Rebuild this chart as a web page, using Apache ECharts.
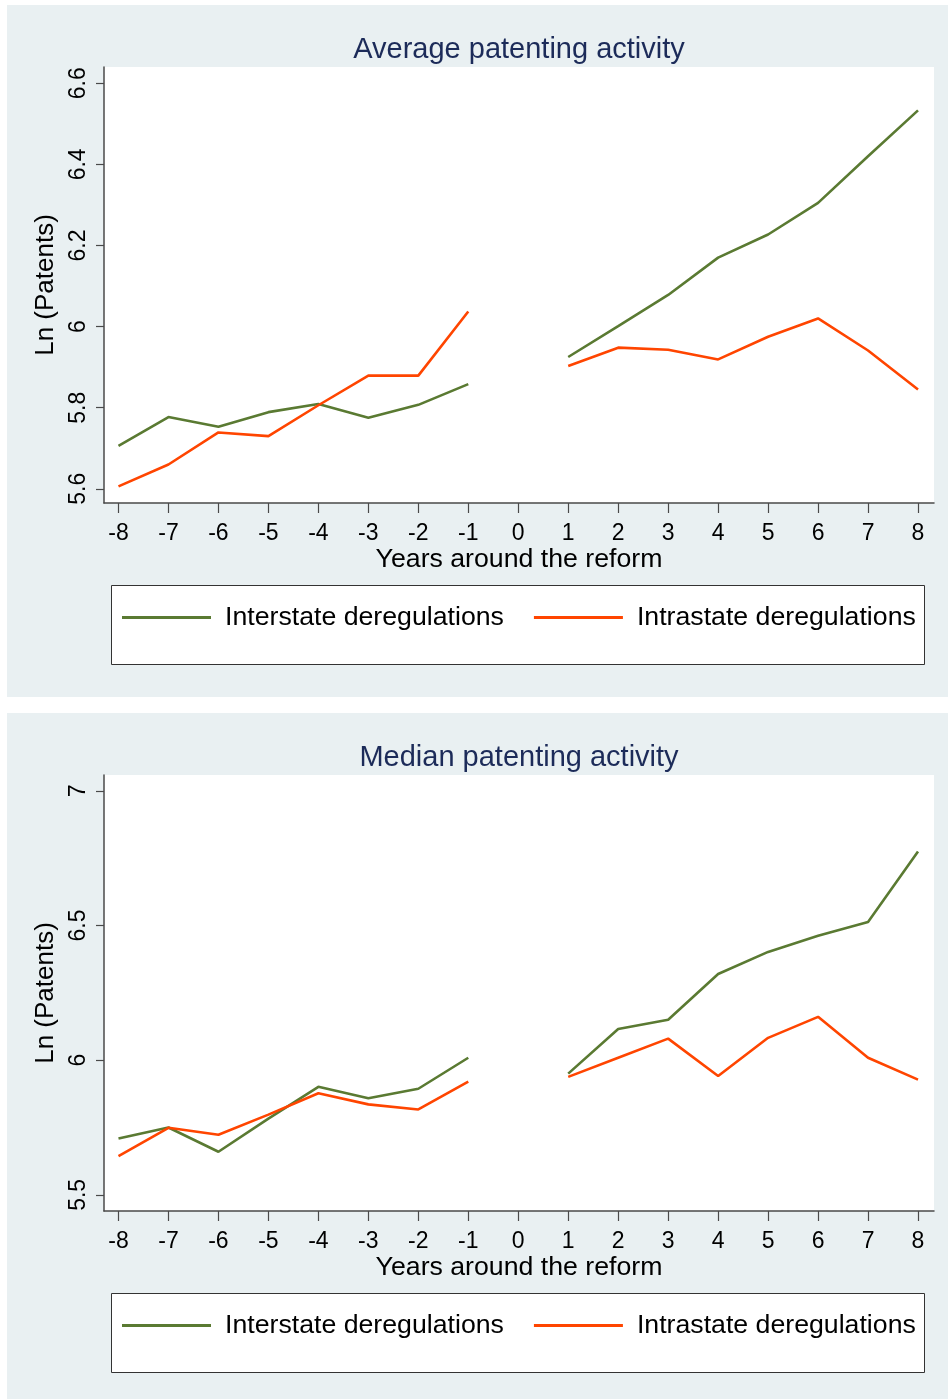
<!DOCTYPE html>
<html>
<head>
<meta charset="utf-8">
<script src="https://cdn.jsdelivr.net/npm/echarts@6/dist/echarts.min.js"></script>
<style>
  html, body { margin: 0; padding: 0; background: #fff; }
  #chart { width: 948px; height: 1399px; }
</style>
</head>
<body>
<div id="chart"></div>
<script>
// Years relative to the reform year (0 has no observation)
const years = [-8, -7, -6, -5, -4, -3, -2, -1, 0, 1, 2, 3, 4, 5, 6, 7, 8];

// Average ln(patents)
const avgInterstate = [5.706, 5.777, 5.753, 5.789, 5.809, 5.775, 5.807, 5.858, null,
                       5.925, 6.001, 6.078, 6.170, 6.227, 6.305, 6.420, 6.533];
const avgIntrastate = [5.606, 5.660, 5.739, 5.730, 5.806, 5.879, 5.879, 6.037, null,
                       5.903, 5.948, 5.943, 5.919, 5.975, 6.020, 5.941, 5.845];

// Median ln(patents)
const medInterstate = [5.709, 5.750, 5.660, 5.783, 5.901, 5.859, 5.894, 6.009, null,
                       5.950, 6.116, 6.150, 6.320, 6.402, 6.462, 6.513, 6.775];
const medIntrastate = [5.644, 5.749, 5.723, 5.798, 5.877, 5.836, 5.817, 5.920, null,
                       5.938, 6.009, 6.080, 5.941, 6.083, 6.161, 6.009, 5.928];

// Tick values
const avgTicks = [5.6, 5.8, 6, 6.2, 6.4, 6.6];
const medTicks = [5.5, 6, 6.5, 7];
const yearTicks = years;

const titles = ['Average patenting activity', 'Median patenting activity'];
const seriesNames = ['Interstate deregulations', 'Intrastate deregulations'];

const FONT = "'Liberation Sans', Arial, Helvetica, sans-serif";
const GREEN = '#5a7a32';
const ORANGE = '#ff4500';
const PANEL_BG = '#e9f0f2';
const AXIS = '#4a4a4a';

const panelOffset = 708;           // vertical shift of the second panel
const plotLeft = 104, plotRight = 934, plotTop = 67, plotBottom = 503;

function toPairs(vals) {
  return years.map((x, i) => [x, vals[i] == null ? '-' : vals[i]]);
}

const panels = [
  { title: titles[0], inter: avgInterstate, intra: avgIntrastate, ticks: avgTicks, min: 5.565, max: 6.640 },
  { title: titles[1], inter: medInterstate, intra: medIntrastate, ticks: medTicks, min: 5.440, max: 7.059 }
];

const option = {
  backgroundColor: '#ffffff',
  animation: false,
  textStyle: { fontFamily: FONT },
  title: [],
  grid: [],
  xAxis: [],
  yAxis: [],
  legend: [],
  series: [],
  graphic: { elements: [] }
};

panels.forEach((p, k) => {
  const dy = k * panelOffset;

  // panel background and legend frame
  option.graphic.elements.push({
    type: 'rect', z: -10, silent: true,
    shape: { x: 7, y: 5 + dy, width: 941, height: k === 0 ? 692 : 686 },
    style: { fill: PANEL_BG }
  });
  option.graphic.elements.push({
    type: 'rect', z: -5, silent: true,
    shape: { x: 111.5, y: 585.5 + dy, width: 813, height: 79 },
    style: { fill: '#ffffff', stroke: '#333333', lineWidth: 1 }
  });

  option.title.push({
    text: p.title,
    left: (plotLeft + plotRight) / 2,
    top: 35 + dy,
    textAlign: 'center',
    padding: 0,
    textStyle: { fontFamily: FONT, fontSize: 29, fontWeight: 'normal', color: '#1c2b59' }
  });

  option.grid.push({
    left: plotLeft, top: plotTop + dy,
    width: plotRight - plotLeft, height: plotBottom - plotTop,
    show: true, backgroundColor: '#ffffff', borderWidth: 0,
    containLabel: false, outerBoundsMode: 'none'
  });

  option.xAxis.push({
    type: 'value', gridIndex: k,
    min: -8.29, max: 8.32,
    name: 'Years around the reform',
    nameLocation: 'middle', nameGap: 39,
    nameTextStyle: { fontFamily: FONT, fontSize: 26.7, color: '#000' },
    axisLine: { show: true, onZero: false, lineStyle: { color: AXIS, width: 1.5 } },
    axisTick: { show: true, length: 10, customValues: yearTicks, lineStyle: { color: AXIS, width: 1.2 } },
    axisLabel: { show: true, customValues: yearTicks, margin: 19, fontFamily: FONT, fontSize: 23, color: '#000' },
    splitLine: { show: false }
  });

  option.yAxis.push({
    type: 'value', gridIndex: k,
    min: p.min, max: p.max,
    name: 'Ln (Patents)',
    nameLocation: 'middle', nameGap: 40, nameRotate: 90,
    nameTextStyle: { fontFamily: FONT, fontSize: 26, color: '#000' },
    axisLine: { show: true, onZero: false, lineStyle: { color: AXIS, width: 1.5 } },
    axisTick: { show: true, length: 8, customValues: p.ticks, lineStyle: { color: AXIS, width: 1.2 } },
    axisLabel: { show: true, customValues: p.ticks, rotate: 90, margin: 14, fontFamily: FONT, fontSize: 23, color: '#000' },
    splitLine: { show: false }
  });

  option.legend.push({
    left: 122, top: 604 + dy,
    orient: 'horizontal',
    icon: 'rect',
    itemWidth: 89, itemHeight: 3, itemGap: 30,
    padding: 0,
    data: seriesNames,
    textStyle: { fontFamily: FONT, fontSize: 26.7, color: '#000', padding: [0, 0, 0, 9] },
    selectedMode: false
  });

  [[p.inter, GREEN, seriesNames[0]], [p.intra, ORANGE, seriesNames[1]]].forEach(([vals, color, name]) => {
    option.series.push({
      type: 'line', name: name,
      xAxisIndex: k, yAxisIndex: k,
      data: toPairs(vals),
      symbol: 'none', showSymbol: false,
      connectNulls: false,
      lineStyle: { color: color, width: 2.6 },
      itemStyle: { color: color },
      emphasis: { disabled: true }
    });
  });
});

const chart = echarts.init(document.getElementById('chart'), null, { renderer: 'canvas' });
chart.setOption(option);
</script>
</body>
</html>
